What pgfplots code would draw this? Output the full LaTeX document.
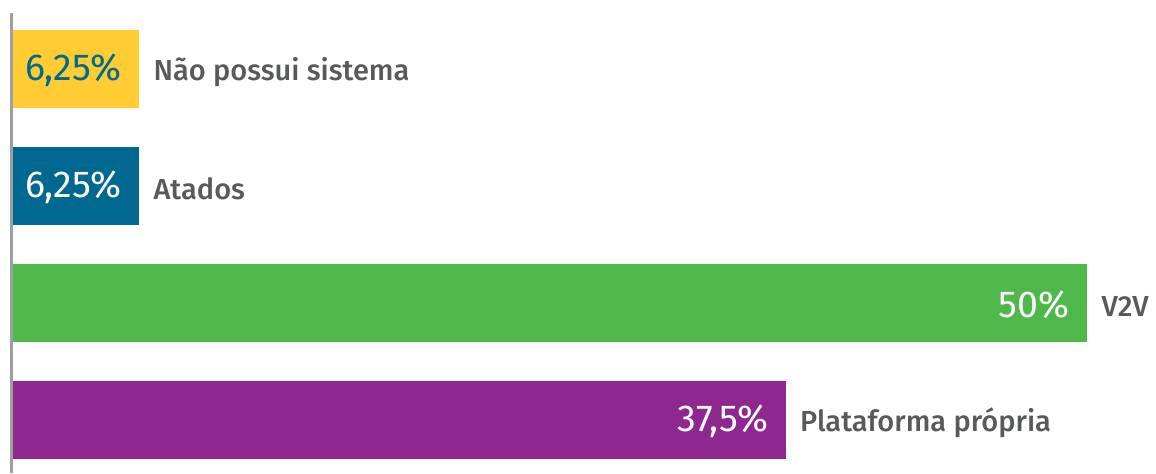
\documentclass[border=0pt]{standalone}
\usepackage{fontspec}
\setmainfont{Fira Sans}
\newfontfamily\medf{Fira Sans Medium}
\usepackage{pgfplots}
\pgfplotsset{compat=1.18}
\definecolor{cyel}{RGB}{255,204,51}
\definecolor{cblu}{RGB}{0,104,145}
\definecolor{cgrn}{RGB}{78,184,74}
\definecolor{cpur}{RGB}{142,39,143}
\definecolor{ctxt}{RGB}{88,89,91}
\definecolor{caxl}{RGB}{157,158,160}
\begin{document}
\begin{tikzpicture}
\begin{axis}[
  scale only axis, width=1144.5pt, height=460pt,
  xmin=0, xmax=53.21, ymin=-0.479, ymax=3.453, y dir=reverse,
  axis x line=none, axis y line=left,
  axis line style={-, draw=caxl, line width=3.2pt},
  every outer y axis line/.append style={-, draw=caxl, line width=3.2pt},
  every inner y axis line/.append style={-, draw=caxl, line width=3.2pt},
  xtick=\empty, ytick=\empty,
  axis on top, clip=false,
  point meta=explicit symbolic,
  pct/.style={nodes near coords, every node near coord/.append style={anchor=east, xshift=-14pt, yshift=-1.5pt, font=\fontsize{37.5}{40}\selectfont}},
  nam/.style={only marks, mark=none, nodes near coords, every node near coord/.append style={anchor=west, xshift=11pt, yshift=-3pt, font=\fontsize{29}{34}\medf, color=ctxt}},
]
\addplot[xbar, bar shift=0pt, bar width=0.667, fill=cyel, draw=none, pct, every node near coord/.append style={color=cblu}] coordinates {(5.93,0) [6,25\%]};
\addplot[xbar, bar shift=0pt, bar width=0.667, fill=cblu, draw=none, pct, every node near coord/.append style={color=white}] coordinates {(5.93,1) [6,25\%]};
\addplot[xbar, bar shift=0pt, bar width=0.667, fill=cgrn, draw=none, pct, every node near coord/.append style={color=white}] coordinates {(50,2) [50\%]};
\addplot[xbar, bar shift=0pt, bar width=0.667, fill=cpur, draw=none, pct, every node near coord/.append style={color=white}] coordinates {(35.99,3) [37,5\%]};
\addplot[nam] coordinates {(5.93,0) [Não possui sistema] (5.93,1) [Atados] (50,2) [V2V] (35.99,3) [Plataforma própria]};
\end{axis}
\pgfresetboundingbox
\path[use as bounding box] ([xshift=-11.5pt]current axis.south west) rectangle ([yshift=13pt]current axis.north east);
\end{tikzpicture}
\end{document}
